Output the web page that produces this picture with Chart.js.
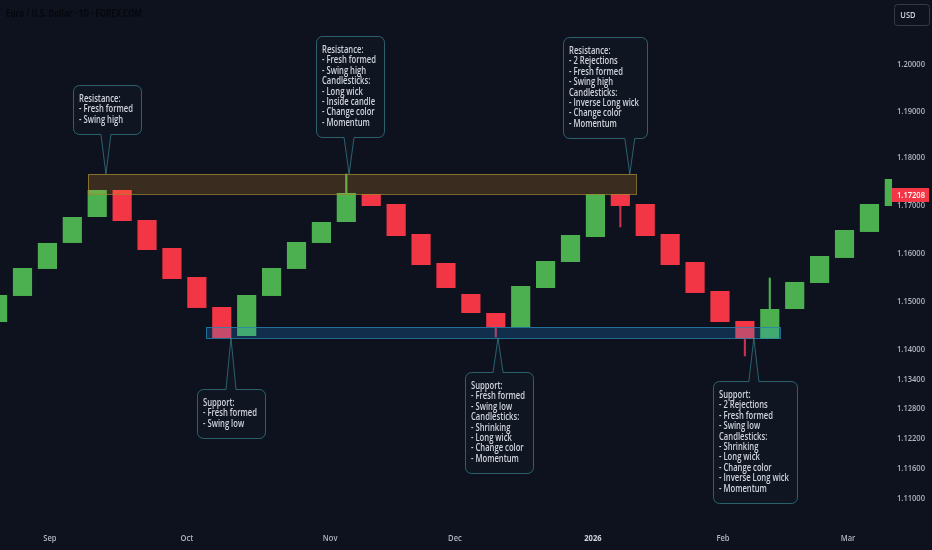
<!DOCTYPE html>
<html lang="en">
<head>
<meta charset="UTF-8">
<title>Euro / U.S. Dollar 1D</title>
<script src="https://cdn.jsdelivr.net/npm/chart.js"></script>
<style>
  html, body { margin: 0; padding: 0; background: #0d121e; }
  .wrap { width: 932px; height: 550px; position: relative; }
</style>
</head>
<body>
<div class="wrap"><canvas id="chart"></canvas></div>
<script>
// candle bodies, one per column (index = position on the x axis)
const opens = [1.14568, 1.15105, 1.15665, 1.16207, 1.16751, 1.17319, 1.16688, 1.16102, 1.15498, 1.14877,
               1.14280, 1.15105, 1.15665, 1.16207, 1.16646, 1.17235, 1.17024, 1.16395, 1.15789, 1.15146,
               1.14753, 1.14465, 1.15270, 1.15810, 1.16332, 1.17235, 1.17024, 1.16395, 1.15810, 1.15208,
               1.14589, 1.14218, 1.14836, 1.15374, 1.15894, 1.16437, 1.16982];
const closes = [1.15125, 1.15685, 1.16207, 1.16751, 1.17319, 1.16667, 1.16060, 1.15457, 1.14857, 1.14239,
                1.15125, 1.15685, 1.16227, 1.16646, 1.17256, 1.16982, 1.16353, 1.15748, 1.15270, 1.14753,
                1.14465, 1.15312, 1.15831, 1.16374, 1.17235, 1.16982, 1.16353, 1.15748, 1.15167, 1.14568,
                1.14218, 1.14836, 1.15395, 1.15935, 1.16478, 1.17024, 1.17551];
// the few visible wicks
const wickAt   = [14, 20, 25, 30, 31];
const wickLow  = [1.17256, 1.14259, 1.16541, 1.13870, 1.14836];
const wickHigh = [1.17657, 1.14465, 1.16982, 1.14218, 1.15478];

const yTicks = [1.20, 1.19, 1.18, 1.17, 1.16, 1.15, 1.14, 1.134, 1.128, 1.122, 1.116, 1.11];
const monthLabels = ['Sep', 'Oct', 'Nov', 'Dec', '2026', 'Feb', 'Mar'];
const monthPos = [2.10, 7.60, 13.35, 18.36, 23.90, 29.12, 34.14];
const lastPrice = 1.17208;

const resistanceZone = { from: 3.63, to: 25.63, top: 1.17657, bottom: 1.17235 };
const supportZone = { from: 8.37, to: 31.41, top: 1.14465, bottom: 1.14239 };

const callouts = [
  { at: 4.35, price: 1.17657, left: 73, top: 85, below: true,
    lines: ['Resistance:', '- Fresh formed', '- Swing high'] },
  { at: 14.11, price: 1.17657, left: 316, top: 36, below: true,
    lines: ['Resistance:', '- Fresh formed', '- Swing high', 'Candlesticks:', '- Long wick', '- Inside candle', '- Change color', '- Momentum'] },
  { at: 25.38, price: 1.17657, left: 563, top: 37, below: true,
    lines: ['Resistance:', '- 2 Rejections', '- Fresh formed', '- Swing high', 'Candlesticks:', '- Inverse Long wick', '- Change color', '- Momentum'] },
  { at: 9.37, price: 1.14239, left: 197, top: 389, below: false,
    lines: ['Support:', '- Fresh formed', '- Swing low'] },
  { at: 20.09, price: 1.14239, left: 465, top: 372, below: false,
    lines: ['Support:', '- Fresh formed', '- Swing low', 'Candlesticks:', '- Shrinking', '- Long wick', '- Change color', '- Momentum'] },
  { at: 30.36, price: 1.14239, left: 713, top: 381, below: false,
    lines: ['Support:', '- 2 Rejections', '- Fresh formed', '- Swing low', 'Candlesticks:', '- Shrinking', '- Long wick', '- Change color', '- Inverse Long wick', '- Momentum'] }
];

const UP = '#4caf50', DOWN = '#f23645';
const BG = '#0d121e';
const LABEL_FONT = '600 10.5px "Open Sans", sans-serif';
const AXIS_FONT = '600 9.5px "Open Sans", sans-serif';

const bodies = opens.map((o, i) => ({ x: i, y: [o, closes[i]] }));
const bodyColors = opens.map((o, i) => closes[i] >= o ? UP : DOWN);
const wicks = wickAt.map((k, i) => ({ x: k, y: [wickLow[i], wickHigh[i]] }));
const wickColors = wickAt.map(k => closes[k] >= opens[k] ? UP : '#c9304a');

// the source uses a narrow face; squeeze real text horizontally
function narrowText(ctx, text, x, y, sx, align) {
  ctx.save();
  ctx.translate(x, y);
  ctx.scale(sx, 1);
  ctx.textAlign = align || 'left';
  ctx.fillText(text, 0, 0);
  ctx.restore();
}

function calloutPath(ctx, x, y, w, h, r, tipX, tipY, below) {
  const b = 5;
  ctx.beginPath();
  ctx.moveTo(x + r, y);
  if (!below) { ctx.lineTo(tipX - b, y); ctx.lineTo(tipX, tipY); ctx.lineTo(tipX + b, y); }
  ctx.lineTo(x + w - r, y);
  ctx.arcTo(x + w, y, x + w, y + r, r);
  ctx.lineTo(x + w, y + h - r);
  ctx.arcTo(x + w, y + h, x + w - r, y + h, r);
  if (below) { ctx.lineTo(tipX + b, y + h); ctx.lineTo(tipX, tipY); ctx.lineTo(tipX - b, y + h); }
  ctx.lineTo(x + r, y + h);
  ctx.arcTo(x, y + h, x, y + h - r, r);
  ctx.lineTo(x, y + r);
  ctx.arcTo(x, y, x + r, y, r);
  ctx.closePath();
}

const overlay = {
  id: 'overlay',
  beforeDraw(chart) {
    const ctx = chart.ctx;
    ctx.save();
    ctx.fillStyle = BG;
    ctx.fillRect(0, 0, chart.width, chart.height);
    ctx.restore();
  },
  afterDatasetsDraw(chart) {
    const ctx = chart.ctx, xs = chart.scales.x, ys = chart.scales.y;
    const zone = (z, fill, stroke) => {
      const x0 = xs.getPixelForValue(z.from), x1 = xs.getPixelForValue(z.to);
      const y0 = ys.getPixelForValue(z.top), y1 = ys.getPixelForValue(z.bottom);
      ctx.fillStyle = fill;
      ctx.fillRect(x0, y0, x1 - x0, y1 - y0);
      ctx.strokeStyle = stroke;
      ctx.lineWidth = 1;
      ctx.strokeRect(Math.round(x0) + 0.5, Math.round(y0) + 0.5, Math.round(x1 - x0), Math.round(y1 - y0));
    };
    ctx.save();
    zone(resistanceZone, 'rgba(255, 165, 40, 0.19)', 'rgba(160, 135, 50, 0.75)');
    zone(supportZone, 'rgba(33, 150, 243, 0.22)', 'rgba(40, 130, 170, 0.8)');
    ctx.restore();
  },
  afterDraw(chart) {
    const ctx = chart.ctx, xs = chart.scales.x, ys = chart.scales.y;
    ctx.save();
    ctx.textBaseline = 'middle';

    // axis labels
    ctx.font = AXIS_FONT;
    const sxAxis = 28 / ctx.measureText('1.20000').width;
    ctx.fillStyle = '#b2b5be';
    yTicks.forEach(v => narrowText(ctx, v.toFixed(5), 897, ys.getPixelForValue(v), sxAxis));
    monthLabels.forEach((m, i) => {
      ctx.font = (m === '2026' ? 'bold 9.5px "Open Sans", sans-serif' : AXIS_FONT);
      ctx.fillStyle = m === '2026' ? '#d1d4dc' : '#b2b5be';
      narrowText(ctx, m, xs.getPixelForValue(monthPos[i]), 538, sxAxis, 'center');
    });

    // callout boxes
    ctx.font = LABEL_FONT;
    const sx = 70 / ctx.measureText('- Inverse Long wick').width;
    callouts.forEach(c => {
      const tipX = xs.getPixelForValue(c.at), tipY = ys.getPixelForValue(c.price);
      const tw = Math.max(...c.lines.map(l => ctx.measureText(l).width)) * sx;
      const w = Math.round(tw + 14), h = Math.round(28 + (c.lines.length - 1) * 10.4);
      const x = c.left + 0.5, y = c.top + 0.5;
      calloutPath(ctx, x, y, w, h, 6, tipX, tipY, c.below);
      ctx.fillStyle = '#0f1521';
      ctx.fill();
      ctx.strokeStyle = 'rgba(64, 150, 160, 0.6)';
      ctx.lineWidth = 1;
      ctx.stroke();
      ctx.fillStyle = '#d1d4dc';
      c.lines.forEach((l, i) => narrowText(ctx, l, c.left + 6, c.top + 14 + i * 10.4, sx));
    });

    // last price tag
    const py = ys.getPixelForValue(lastPrice);
    ctx.fillStyle = DOWN;
    ctx.fillRect(892, Math.round(py) - 7, 37, 14);
    ctx.font = AXIS_FONT;
    ctx.fillStyle = '#ffffff';
    narrowText(ctx, lastPrice.toFixed(5), 911, py, sxAxis, 'center');

    // currency button
    ctx.strokeStyle = '#363a45';
    ctx.beginPath();
    ctx.roundRect(894.5, 4.5, 35, 21, 3);
    ctx.stroke();
    ctx.fillStyle = '#d1d4dc';
    narrowText(ctx, 'USD', 908, 15, sxAxis, 'center');

    // symbol title (very dark in the source)
    ctx.font = 'bold 10px "Open Sans", sans-serif';
    const title = 'Euro / U.S. Dollar · 1D · FOREX.COM';
    ctx.fillStyle = 'rgba(0, 0, 0, 0.6)';
    narrowText(ctx, title, 6, 14, 136 / ctx.measureText(title).width);
    ctx.restore();
  }
};

new Chart(document.getElementById('chart'), {
  type: 'bar',
  data: {
    datasets: [
      {
        label: 'Body',
        data: bodies,
        backgroundColor: bodyColors,
        borderWidth: 0,
        grouped: false,
        categoryPercentage: 1,
        barPercentage: 0.77,
        order: 1
      },
      {
        label: 'Wick',
        data: wicks,
        backgroundColor: wickColors,
        borderWidth: 0,
        grouped: false,
        barThickness: 1.5,
        order: 2
      }
    ]
  },
  options: {
    responsive: true,
    maintainAspectRatio: false,
    animation: false,
    layout: { padding: 0 },
    plugins: {
      legend: { display: false },
      tooltip: { enabled: false }
    },
    scales: {
      x: {
        type: 'linear',
        min: 0.097,
        max: 35.906,
        offset: false,
        grid: { display: false, drawTicks: false },
        border: { display: false },
        ticks: { display: false },
        afterFit: s => { s.height = 25; s.paddingLeft = 0; s.paddingRight = 0; }
      },
      y: {
        type: 'logarithmic',
        position: 'right',
        min: 1.10462,
        max: 1.21395,
        grid: { display: false, drawTicks: false },
        border: { display: false },
        ticks: { display: false },
        afterFit: s => { s.width = 40; s.paddingTop = 0; s.paddingBottom = 0; }
      }
    }
  },
  plugins: [overlay]
});
</script>
</body>
</html>
